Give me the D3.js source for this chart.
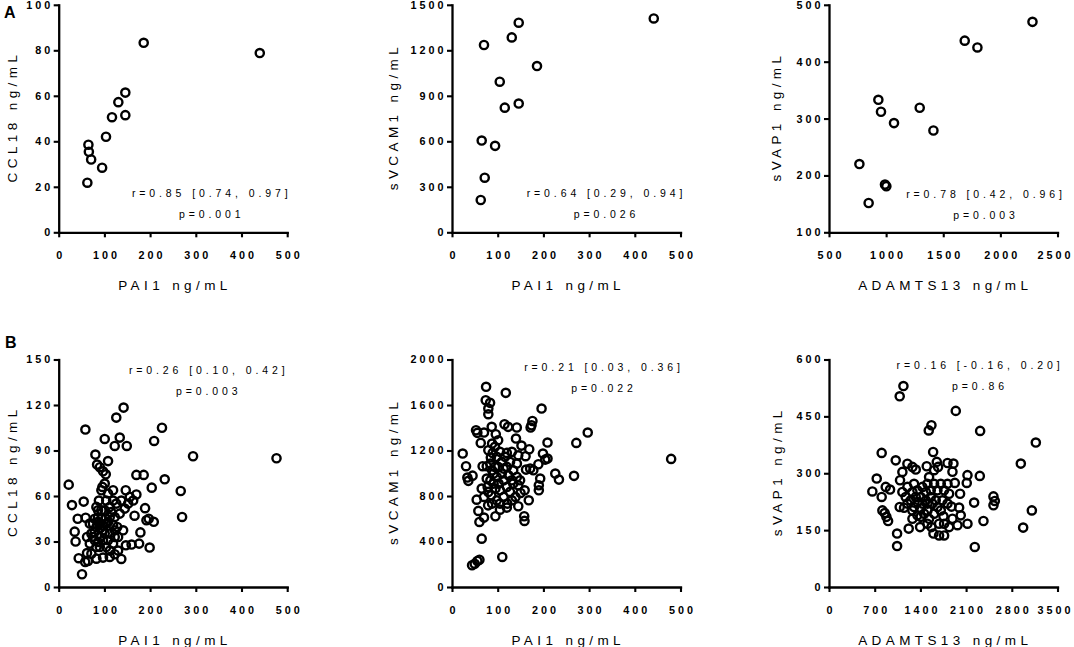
<!DOCTYPE html>
<html>
<head>
<meta charset="utf-8">
<script src="https://cdn.jsdelivr.net/npm/d3@7"></script>
<style>
body { margin: 0; background: #fff; }
svg { display: block; font-family: "Liberation Sans", Arial, sans-serif; }
</style>
</head>
<body>
<script>
// values: [x, y] per subject

var a1 = [[62.7,21.8],[65,38.5],[66,35.4],[71,32],[95,28.4],[103.5,42],[116.6,50.6],[130.5,57.2],
	[145.8,61.4],[145.8,51.5],[186,83.3],[440,78.8]]

var a2 = [[62.9,213],[70,1235],[65,605],[71.6,360],[94.3,570],[104.5,993],[115.5,822],[130.8,1285],
	[146,1382],[146,849],[186,1096],[441.5,1410]]

var a3 = [[766,220],[847,151.5],[932,333],[955,312],[990,184],[1002,181],[1069,292],[1294,319],
	[1414,279],[1688,437],[1799,425],[2281,470]]

var b1 = [[21.9,67.5],[29,54],[35,36.5],[37,30],[41.6,45],[43.8,19],[51,8.4],[54.7,56.3],[58.4,103.8],
	[59,45.7],[62,33],[58,16.5],[62,22.4],[68,41.8],[80.3,87.3],[84,80.7],[90,79],[97,76.3],[103,74.3],
	[100.7,97.6],[108,83],[122.6,93],[126,111.7],[133.6,98.5],[142,118.3],[149,93],[170,73.9],[186,73.9],
	[146.7,63.8],[170,61],[203.6,65.5],[208.8,96.3],[226,105],[232,71],[267,63.3],[270,46.2],[294,86.2],
	[476.6,84.9],[178.8,36],[199,26],[208,43],[189,52],[192,44],[197,45],[166,47],[176,28.6],[159.5,28],
	[147,27.5],[137,18.5],[122.6,21.6],[111.7,19.8],[97,19.4],[82.5,18.7],[71.5,22],[64,17.2],[90,26.4],
	[104,26.4],[119,28.6],[130,33],[141,37.4],[128,39.6],[133.6,48.4],[152,55],[163,57],[119,57],[108,61.6],
	[93.4,63.8],[88,57],[82.5,52.8],[86,46],[75,41.8],[78.8,36.3],[90,33],[97,37.4],[104,41.8],[111.7,46.2],
	[100.7,50.6],[111.7,52.8],[122.6,46.2],[90,41.8],[78.8,30.8],[68,28.6],[82.5,26.4],[97,30.8],[111.7,35.2],
	[122.6,33],[130,24],[111.7,24],[71.5,35.2],[90,38.5],[93.4,50.6],[104,57],[126,55],[137,57],[144.5,51.7],
	[155.5,59.4],[119,63.8],[100.7,68.2],[95.6,66],[82.5,39.6],[86,43],[93.4,45],[97,40.7],[78.8,45],[75,33],
	[86,50.6],[102,45],[115,49.5],[108,42.9],[119,40.7],[100.7,35.2],[86,29.7],[108,30.8],[122.6,37.4]]

var b2 = [[23.4,1173],[30.7,1062],[33.6,962],[35.8,933],[45,979],[43.9,191],[49.7,205],[55.5,229],[60,240],
	[65,425],[60,572],[57.7,669],[70,610],[54,768],[52.6,1378],[55.5,1355],[62.9,1267],[70,1358],[74.6,1760],
	[73.8,1642],[83.3,1619],[79.5,1569],[79.5,1519],[86.9,1408],[95.8,1343],[117.7,1707],[114.9,1431],
	[122.8,1408],[141.8,1402],[140,1305],[152,1243],[176,1460],[174,1422],[172,1402],[196,1569],[209,1270],
	[199,1173],[209,1129],[204,1120],[189,1079],[169,1211],[161,1150],[226,997],[234,944],[272,1267],[267,977],
	[297,1358],[479.5,1126],[110,264],[158,622],[158.6,581],[95,622],[193,953],[190,894],[190,850],[168,762],
	[159,850],[150,827],[139,792],[145,710],[120,698],[105,680],[105,733],[171,1041],[178,1026],[162,1032],
	[142,1085],[145,1158],[131,1188],[120,1179],[89,1179],[85,1138],[76,1062],[67,1062],[76,953],[78,880],
	[70,792],[79,718],[65,865],[86,806],[95,865],[102,909],[113,938],[123.5,982],[131,938],[134,1026],
	[120,1056],[109,1100],[98,1144],[94,1056],[91,997],[98,968],[109,997],[87.7,1026],[84,938],[105,850],
	[120,880],[127,836],[113,792],[98,762],[87.7,733],[134,909],[142,968],[149,938],[145,894],[101,1056],
	[113,1041],[127,1100],[116,1144],[105,1188],[94,1232],[101,1290],[87.7,1261],[79.5,1202],[84,1085],
	[91,909],[79.5,836],[131,762],[121,733]]

var b3 = [[664,252],[731,286],[807,237.5],[807,353.7],[818,202],[853,195],[879,185],[905,174],[869,264],
	[935,257],[1022,334],[1043,108],[1043,141],[1083,503],[1140,530],[1124,303.5],[1088,281.5],[1083,211],
	[1150,209],[1221,154],[1201,325],[1278,316.7],[1329,309.7],[1497,318.5],[1528,413],[1569,426.7],
	[1595,356],[1942,464.5],[2315,411.7],[2310,293],[2223,222.6],[2233,105.6],[2366,174],[2519,239],
	[2540,227],[2519,215.5],[2938,325.5],[3168,381],[3107,202],[2974,156.6],[2121,295],[2110,274.5],
	[2008,246],[1993,209.4],[2018,189],[2121,167],[1968,163],[1840,158],[1891,180],[1906,325.5],[1815,327],
	[1891,304],[1927,274.5],[1876,212],[1753,186.5],[1763,136],[1686,136],[1600,141],[1569,158],[1508,167],
	[1395,158],[1405,185],[1278,180],[1303,211],[1405,207],[1508,202],[1610,193.5],[1712,202],[1815,220],
	[1738,228.6],[1661,255],[1763,255],[1840,246],[1815,272],[1712,272],[1610,272],[1533,290],[1610,308],
	[1651,330],[1671,316.7],[1508,272],[1431,264],[1354,255],[1278,250.7],[1201,264],[1124,250.7],
	[1175,237.5],[1252,228.7],[1329,237.5],[1405,237.5],[1482,228.7],[1559,237.5],[1635,228.7],[1584,220],
	[1508,220],[1431,220],[1354,224],[1278,202],[1201,220],[1457,193.5],[1354,189],[1533,180],[1661,211],
	[1763,167],[1686,167],[1482,250.7],[1559,255],[1303,272]]

var paiTicks = [0, 100, 200, 300, 400, 500]
var adamA = [500, 1000, 1500, 2000, 2500]
var adamB = [0, 700, 1400, 2100, 2800, 3500]
var ccl18A = [0, 20, 40, 60, 80, 100]
var ccl18B = [0, 30, 60, 90, 120, 150]
var vcamA = [0, 300, 600, 900, 1200, 1500]
var vcamB = [0, 400, 800, 1200, 1600, 2000]
var vapA = [100, 200, 300, 400, 500]
var vapB = [0, 150, 300, 450, 600]

var stats = [
	['r=0.85 [0.74, 0.97]', 'p=0.001'],
	['r=0.64 [0.29, 0.94]', 'p=0.026'],
	['r=0.78 [0.42, 0.96]', 'p=0.003'],
	['r=0.26 [0.10, 0.42]', 'p=0.003'],
	['r=0.21 [0.03, 0.36]', 'p=0.022'],
	['r=0.16 [-0.16, 0.20]', 'p=0.86']
]

var W = 228.5, H = 227.5
var cols = [58.7, 452, 829]
var rows = [4.8, 359.5]

var panels = [
	{data: a1, xt: paiTicks, yt: ccl18A, xl: 'PAI1 ng/mL', yl: 'CCL18 ng/mL', col: 0, row: 0, ylx: -46.5, sx: 153, sy: 192},
	{data: a2, xt: paiTicks, yt: vcamA, xl: 'PAI1 ng/mL', yl: 'sVCAM1 ng/mL', col: 1, row: 0, ylx: -59, sx: 154.5, sy: 192},
	{data: a3, xt: adamA, yt: vapA, xl: 'ADAMTS13 ng/mL', yl: 'sVAP1 ng/mL', col: 2, row: 0, ylx: -53, sx: 157, sy: 193.5},
	{data: b1, xt: paiTicks, yt: ccl18B, xl: 'PAI1 ng/mL', yl: 'CCL18 ng/mL', col: 0, row: 1, ylx: -46.5, sx: 150, sy: 14.4},
	{data: b2, xt: paiTicks, yt: vcamB, xl: 'PAI1 ng/mL', yl: 'sVCAM1 ng/mL', col: 1, row: 1, ylx: -59, sx: 152, sy: 11.5},
	{data: b3, xt: adamB, yt: vapB, xl: 'ADAMTS13 ng/mL', yl: 'sVAP1 ng/mL', col: 2, row: 1, ylx: -52, sx: 151, sy: 9.5}
]

var svg = d3.select('body').append('svg')
	.attr('width', 1074)
	.attr('height', 647)

function styleAxis(ax) {
	ax.select('.domain')
		.attr('stroke', '#000')
		.attr('stroke-width', 2.3)
		.attr('stroke-linecap', 'square')
	ax.selectAll('.tick line')
		.attr('stroke', '#000')
		.attr('stroke-width', 2.1)
	ax.selectAll('.tick text')
		.attr('fill', '#000')
		.style('font-size', '10.8px')
		.style('font-weight', 'bold')
		.style('letter-spacing', '3px')
}

function drawPanel(p, i) {
	var x = d3.scaleLinear()
		.domain(d3.extent(p.xt))
		.range([0, W])
	var y = d3.scaleLinear()
		.domain(d3.extent(p.yt))
		.range([H, 0])

	var g = svg.append('g')
		.attr('transform', 'translate(' + cols[p.col] + ',' + rows[p.row] + ')')

	var xa = g.append('g')
		.attr('transform', 'translate(0,' + H + ')')
		.call(d3.axisBottom(x).tickValues(p.xt).tickFormat(d3.format('d'))
			.tickSize(5).tickSizeOuter(0).tickPadding(14.5))
	styleAxis(xa)
	// trailing letter-spacing; keep the last label of the right column inside the page
	xa.selectAll('.tick text').attr('dx', (d, k, n) => (p.col == 2 && k == n.length - 1) ? -2.5 : 1.5)

	var ya = g.append('g')
		.call(d3.axisLeft(y).tickValues(p.yt).tickFormat(d3.format('d'))
			.tickSize(5).tickSizeOuter(0))
	styleAxis(ya)
	ya.selectAll('.tick text').attr('x', -5.5)

	g.selectAll('circle')
		.data(p.data)
		.enter()
		.append('circle')
			.attr('cx', d => x(d[0]))
			.attr('cy', d => y(d[1]))
			.attr('r', 4.1)
			.attr('fill', 'none')
			.attr('stroke', '#000')
			.attr('stroke-width', 2.4)

	g.append('text')
		.attr('x', W / 2 + 2)
		.attr('y', H + 57.5)
		.attr('text-anchor', 'middle')
		.style('font-size', '13.5px')
		.style('letter-spacing', '4.4px')
		.text(p.xl)

	g.append('text')
		.attr('transform', 'translate(' + p.ylx + ',' + (H / 2) + ') rotate(-90)')
		.attr('dx', 2)
		.attr('dy', '0.35em')
		.attr('text-anchor', 'middle')
		.style('font-size', '13.5px')
		.style('letter-spacing', '4.4px')
		.text(p.yl)

	stats[i].forEach(function(s, k) {
		g.append('text')
			.attr('x', p.sx)
			.attr('y', p.sy + k * 21)
			.attr('text-anchor', 'middle')
			.style('font-size', '10.5px')
			.style('letter-spacing', '3.9px')
			.text(s)
	})
}

panels.forEach(drawPanel)

svg.append('text')
	.attr('x', 4).attr('y', 18)
	.style('font-size', '16px').style('font-weight', 'bold')
	.text('A')
svg.append('text')
	.attr('x', 5).attr('y', 348)
	.style('font-size', '16px').style('font-weight', 'bold')
	.text('B')
</script>
</body>
</html>
